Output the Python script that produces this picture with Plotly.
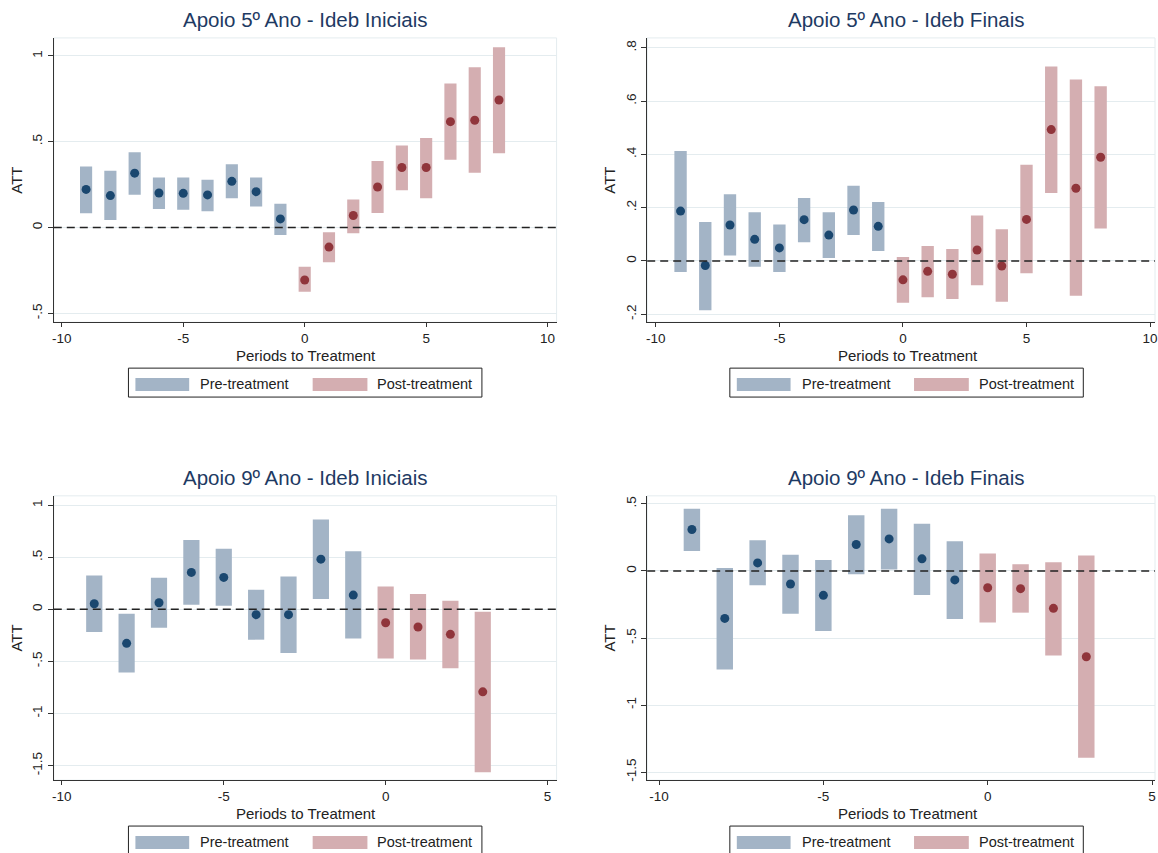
import plotly.graph_objects as go

# ---------------- data ----------------
periods_pre = [-9, -8, -7, -6, -5, -4, -3, -2, -1]
periods_post_top = [0, 1, 2, 3, 4, 5, 6, 7, 8]
periods_post_bottom = [0, 1, 2, 3]

# Apoio 5º Ano - Ideb Iniciais
p1_pre_att = [0.222, 0.186, 0.317, 0.201, 0.199, 0.190, 0.269, 0.209, 0.050]
p1_pre_lo = [0.083, 0.044, 0.191, 0.108, 0.103, 0.095, 0.170, 0.122, -0.044]
p1_pre_hi = [0.356, 0.331, 0.439, 0.292, 0.292, 0.279, 0.369, 0.292, 0.139]
p1_post_att = [-0.306, -0.114, 0.070, 0.236, 0.350, 0.350, 0.617, 0.625, 0.743]
p1_post_lo = [-0.375, -0.203, -0.033, 0.085, 0.217, 0.170, 0.395, 0.319, 0.433]
p1_post_hi = [-0.228, -0.027, 0.164, 0.387, 0.478, 0.522, 0.839, 0.934, 1.050]

# Apoio 5º Ano - Ideb Finais
p2_pre_att = [0.187, -0.017, 0.135, 0.081, 0.049, 0.155, 0.097, 0.191, 0.130]
p2_pre_lo = [-0.041, -0.185, 0.020, -0.022, -0.041, 0.070, 0.011, 0.097, 0.037]
p2_pre_hi = [0.413, 0.146, 0.250, 0.183, 0.137, 0.236, 0.183, 0.282, 0.221]
p2_post_att = [-0.071, -0.039, -0.050, 0.041, -0.019, 0.156, 0.493, 0.273, 0.389]
p2_post_lo = [-0.157, -0.136, -0.143, -0.091, -0.153, -0.046, 0.255, -0.131, 0.122]
p2_post_hi = [0.015, 0.056, 0.045, 0.171, 0.119, 0.361, 0.730, 0.681, 0.656]

# Apoio 9º Ano - Ideb Iniciais
p3_pre_att = [0.054, -0.326, 0.064, 0.355, 0.307, -0.051, -0.051, 0.482, 0.137]
p3_pre_lo = [-0.217, -0.607, -0.176, 0.045, 0.035, -0.291, -0.419, 0.099, -0.281]
p3_pre_hi = [0.326, -0.042, 0.304, 0.665, 0.581, 0.188, 0.316, 0.863, 0.559]
p3_post_att = [-0.128, -0.169, -0.240, -0.792]
p3_post_lo = [-0.473, -0.482, -0.565, -1.565]
p3_post_hi = [0.220, 0.147, 0.083, -0.022]

# Apoio 9º Ano - Ideb Finais
p4_pre_att = [0.309, -0.354, 0.060, -0.097, -0.182, 0.197, 0.239, 0.090, -0.067]
p4_pre_lo = [0.149, -0.735, -0.107, -0.319, -0.448, -0.025, 0.010, -0.179, -0.359]
p4_pre_hi = [0.463, 0.022, 0.229, 0.120, 0.082, 0.416, 0.463, 0.351, 0.222]
p4_post_att = [-0.125, -0.132, -0.279, -0.640]
p4_post_lo = [-0.384, -0.311, -0.630, -1.392]
p4_post_hi = [0.130, 0.050, 0.065, 0.115]

titles = ["Apoio 5º Ano - Ideb Iniciais", "Apoio 5º Ano - Ideb Finais",
          "Apoio 9º Ano - Ideb Iniciais", "Apoio 9º Ano - Ideb Finais"]
legend_labels = ["Pre-treatment", "Post-treatment"]
x_title = "Periods to Treatment"
y_title = "ATT"

# ---------------- style ----------------
W, H = 1158, 853
FONT = "Liberation Sans, Arial, sans-serif"
PRE_BAR = "#a3b4c6"
POST_BAR = "#d4aeb1"
PRE_DOT = "#1a476f"
POST_DOT = "#90353b"
GRID = "#e4ecef"
TITLE_COLOR = "#1e3a63"
TEXT = "#222222"

def px(x):
    return x / W

def py(y):
    return 1 - y / H

panels = [
    dict(pre=(p1_pre_att, p1_pre_lo, p1_pre_hi), post=(p1_post_att, p1_post_lo, p1_post_hi),
         post_x=periods_post_top, xr=[-10.33, 10.37], yr=[-0.552, 1.105],
         xt=[-10, -5, 0, 5, 10], yt=[-0.5, 0, 0.5, 1], ytt=["-.5", "0", ".5", "1"],
         dx=0, dy=0, left=52, right=557),
    dict(pre=(p2_pre_att, p2_pre_lo, p2_pre_hi), post=(p2_post_att, p2_post_lo, p2_post_hi),
         post_x=periods_post_top, xr=[-10.35, 10.2], yr=[-0.23, 0.837],
         xt=[-10, -5, 0, 5, 10], yt=[-0.2, 0, 0.2, 0.4, 0.6, 0.8],
         ytt=["-.2", "0", ".2", ".4", ".6", ".8"],
         dx=604, dy=0, left=648, right=1158),
    dict(pre=(p3_pre_att, p3_pre_lo, p3_pre_hi), post=(p3_post_att, p3_post_lo, p3_post_hi),
         post_x=periods_post_bottom, xr=[-10.25, 5.28], yr=[-1.64, 1.09],
         xt=[-10, -5, 0, 5], yt=[-1.5, -1, -0.5, 0, 0.5, 1],
         ytt=["-1.5", "-1", "-.5", "0", ".5", "1"],
         dx=0, dy=459, left=52, right=557),
    dict(pre=(p4_pre_att, p4_pre_lo, p4_pre_hi), post=(p4_post_att, p4_post_lo, p4_post_hi),
         post_x=periods_post_bottom, xr=[-10.36, 5.09], yr=[-1.56, 0.56],
         xt=[-10, -5, 0, 5], yt=[-1.5, -1, -0.5, 0, 0.5],
         ytt=["-1.5", "-1", "-.5", "0", ".5"],
         dx=604, dy=459, left=648, right=1158),
]

fig = go.Figure()
layout = dict(width=W, height=H, margin=dict(l=0, r=0, t=0, b=0),
              paper_bgcolor="white", plot_bgcolor="white", showlegend=False,
              barmode="overlay", font=dict(family=FONT, color=TEXT))
shapes = []
annotations = []

for i, p in enumerate(panels):
    n = "" if i == 0 else str(i + 1)
    xa, ya = "x" + n, "y" + n
    top, bottom = 38 + p["dy"], 323 + p["dy"]
    pre_att, pre_lo, pre_hi = p["pre"]
    post_att, post_lo, post_hi = p["post"]

    fig.add_trace(go.Bar(x=periods_pre, base=pre_lo,
                         y=[h - l for h, l in zip(pre_hi, pre_lo)], width=0.5,
                         marker=dict(color=PRE_BAR, line=dict(width=0)),
                         xaxis=xa, yaxis=ya, name=legend_labels[0], hoverinfo="skip"))
    fig.add_trace(go.Bar(x=p["post_x"], base=post_lo,
                         y=[h - l for h, l in zip(post_hi, post_lo)], width=0.5,
                         marker=dict(color=POST_BAR, line=dict(width=0)),
                         xaxis=xa, yaxis=ya, name=legend_labels[1], hoverinfo="skip"))
    fig.add_trace(go.Scatter(x=periods_pre, y=pre_att, mode="markers",
                             marker=dict(color=PRE_DOT, size=9),
                             xaxis=xa, yaxis=ya, hoverinfo="skip"))
    fig.add_trace(go.Scatter(x=p["post_x"], y=post_att, mode="markers",
                             marker=dict(color=POST_DOT, size=9),
                             xaxis=xa, yaxis=ya, hoverinfo="skip"))

    layout["xaxis" + n] = dict(domain=[px(p["left"]), px(p["right"])], anchor=ya,
                               range=p["xr"], tickvals=p["xt"],
                               ticktext=[str(v) for v in p["xt"]],
                               ticklabeloverflow="allow",
                               showgrid=False, zeroline=False, showline=True,
                               linecolor="#333333", linewidth=1, ticks="outside",
                               ticklen=4, tickcolor="#333333",
                               tickfont=dict(size=13.5, color=TEXT))
    layout["yaxis" + n] = dict(domain=[py(bottom), py(top)], anchor=xa,
                               range=p["yr"], tickvals=p["yt"], ticktext=p["ytt"],
                               tickangle=-90, showgrid=True, gridcolor=GRID,
                               zeroline=False, showline=True, linecolor="#333333",
                               linewidth=1, ticks="outside", ticklen=5,
                               tickcolor="#333333", tickfont=dict(size=13.5, color=TEXT),
                               title=dict(text=y_title, font=dict(size=15, color=TEXT),
                                          standoff=4))

    # faint plot-region border (top/right)
    shapes.append(dict(type="rect", xref=xa + " domain", yref=ya + " domain",
                       x0=0, x1=1, y0=0, y1=1, line=dict(color=GRID, width=1),
                       layer="below"))
    # dashed reference line at zero
    shapes.append(dict(type="line", xref=xa + " domain", yref=ya, x0=0, x1=1,
                       y0=0, y1=0, line=dict(color="#222222", width=1.5, dash="8px,5px"),
                       layer="above"))

    cx = 304.5 + p["dx"]
    # title
    annotations.append(dict(text=titles[i], x=px(cx), y=py(20 + p["dy"]), xref="paper",
                            yref="paper", showarrow=False, xanchor="center",
                            yanchor="middle", font=dict(size=20.5, color=TITLE_COLOR)))
    # x-axis title
    annotations.append(dict(text=x_title, x=px(cx + 1), y=py(356 + p["dy"]), xref="paper",
                            yref="paper", showarrow=False, xanchor="center",
                            yanchor="middle", font=dict(size=15, color=TEXT)))

    # legend box
    lx, ly = p["dx"], p["dy"]
    shapes.append(dict(type="rect", xref="paper", yref="paper",
                       x0=px(127 + lx), x1=px(482 + lx), y0=py(398 + ly), y1=py(369 + ly),
                       line=dict(color="#222222", width=1), fillcolor="white"))
    shapes.append(dict(type="rect", xref="paper", yref="paper",
                       x0=px(134 + lx), x1=px(188 + lx), y0=py(392 + ly), y1=py(379 + ly),
                       line=dict(width=0), fillcolor=PRE_BAR))
    shapes.append(dict(type="rect", xref="paper", yref="paper",
                       x0=px(312 + lx), x1=px(367 + lx), y0=py(392 + ly), y1=py(379 + ly),
                       line=dict(width=0), fillcolor=POST_BAR))
    annotations.append(dict(text=legend_labels[0], x=px(197 + lx), y=py(385 + ly),
                            xref="paper", yref="paper", showarrow=False, xanchor="left",
                            yanchor="middle", font=dict(size=14.5, color=TEXT)))
    annotations.append(dict(text=legend_labels[1], x=px(375 + lx), y=py(385 + ly),
                            xref="paper", yref="paper", showarrow=False, xanchor="left",
                            yanchor="middle", font=dict(size=14.5, color=TEXT)))

layout["shapes"] = shapes
layout["annotations"] = annotations
fig.update_layout(**layout)
fig.write_html("out.html")
